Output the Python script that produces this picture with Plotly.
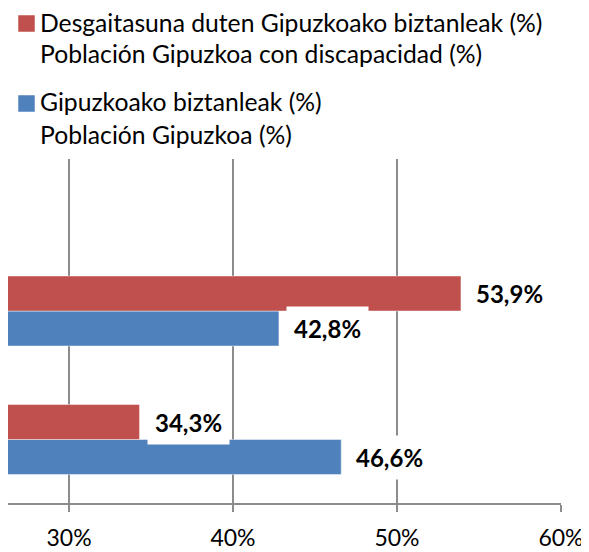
import plotly.graph_objects as go

# ---- data ----
categories = ["Kategoria 2", "Kategoria 1"]          # bottom -> top (labels cropped in reference)
series_names = ["Gipuzkoako biztanleak (%)<br>Población Gipuzkoa (%)",
                "Desgaitasuna duten Gipuzkoako biztanleak (%)<br>Población Gipuzkoa con discapacidad (%)"]
series_colors = ["#4F81BD", "#C0504D"]
poblacion = [46.6, 42.8]          # blue
discapacidad = [34.3, 53.9]       # red
series_values = [poblacion, discapacidad]
tick_values = [30, 40, 50, 60]
tick_labels = ["30%", "40%", "50%", "60%"]

FONT = "Lato"
OFF = 8                      # page body margin offset
W, H = 589 - OFF, 552 - OFF
ML, MR, MT, MB = 0, 28, 159 - OFF, 49
PW = W - ML - MR
PH = H - MT - MB

def pxx(px):               # page pixel -> paper x
    return (px - OFF - ML) / PW

def pxy(py):               # page pixel -> paper y
    return (H - MB - (py - OFF)) / PH

fig = go.Figure()
for name, vals, col in zip(series_names, series_values, series_colors):
    fig.add_trace(go.Bar(
        y=categories, x=vals, name=name, orientation="h",
        marker=dict(color=col, line=dict(color="rgba(255,255,255,0.45)", width=1)),
        showlegend=False, hoverinfo="x+name",
    ))

bar_px = 35
shifts = [-bar_px / 2, bar_px / 2]
annotations = []
for vals, ys in zip(series_values, shifts):
    for cat, v in zip(categories, vals):
        annotations.append(dict(
            x=v, y=cat, xref="x", yref="y",
            text="<b>" + f"{v:.1f}".replace(".", ",") + "%</b>",
            showarrow=False, xanchor="left", yanchor="middle",
            xshift=7, yshift=ys,
            bgcolor="white", borderpad=7,
            font=dict(family=FONT, size=24, color="black"),
        ))

# manual legend (top-left), red entry first
shapes = []
legend_rows = [(1, 15), (0, 95)]
for idx, top in legend_rows:
    shapes.append(dict(type="rect", xref="paper", yref="paper",
                       x0=pxx(18), x1=pxx(35), y0=pxy(top + 17), y1=pxy(top),
                       fillcolor=series_colors[idx], line=dict(color="rgba(255,255,255,0.5)", width=1)))
    for li, line in enumerate(series_names[idx].split("<br>")):
        annotations.append(dict(
            x=pxx(38), y=pxy(top + 7 + li * 32), xref="paper", yref="paper",
            text=line, showarrow=False, xanchor="left", yanchor="middle",
            font=dict(family=FONT, size=24.7, color="black"),
        ))

fig.update_layout(
    width=W, height=H,
    margin=dict(l=ML, r=MR, t=MT, b=MB),
    paper_bgcolor="white", plot_bgcolor="white",
    barmode="group", bargap=0.455, bargroupgap=0,
    showlegend=False,
    font=dict(family=FONT, size=24, color="black"),
    xaxis=dict(range=[26.28, 60], tickvals=tick_values, ticktext=tick_labels,
               showgrid=True, gridcolor="#8C8C8C", gridwidth=1.5,
               showline=True, linecolor="#8C8C8C", linewidth=1.5,
               ticks="outside", ticklen=7, tickcolor="#8C8C8C", tickwidth=1.5,
               ticklabelstandoff=7,
               tickfont=dict(family=FONT, size=23, color="black"), zeroline=False),
    yaxis=dict(type="category", categoryorder="array", categoryarray=categories,
               range=[-0.494, 2.183], showticklabels=False, showgrid=False,
               zeroline=False, showline=False, ticks=""),
    shapes=shapes, annotations=annotations,
)

fig.write_html("out.html")
